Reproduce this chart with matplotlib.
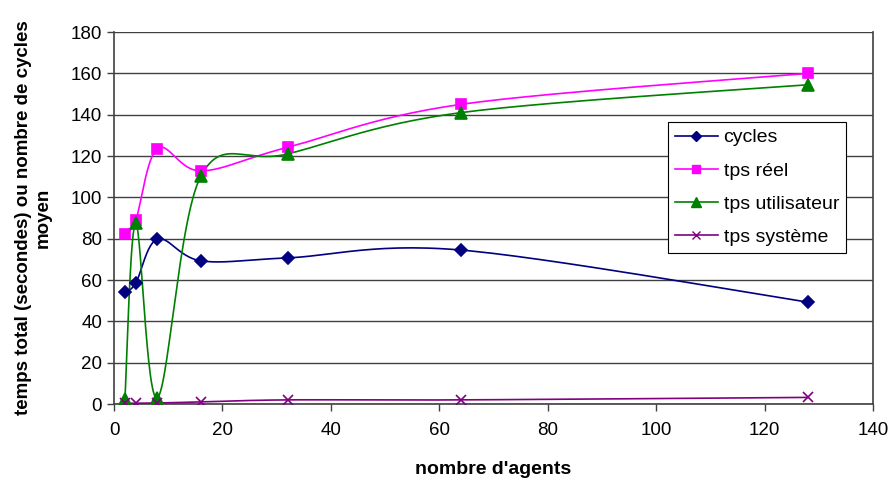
import matplotlib
matplotlib.use("Agg")
import matplotlib.pyplot as plt
import numpy as np

plt.rcParams['font.family'] = ['Liberation Sans', 'DejaVu Sans']

# nombre d'agents
agents = [2, 4, 8, 16, 32, 64, 128]

cycles = [54.2, 58.5, 79.8, 69.3, 70.7, 74.5, 49.3]
tps_reel = [82.2, 89.0, 123.6, 112.8, 124.2, 145.0, 160.0]
tps_util = [2.2, 87.5, 3.0, 110.2, 121.0, 141.0, 154.5]
tps_sys = [0.3, 0.4, 0.5, 1.0, 2.0, 2.0, 3.2]


def lissage(x, y, n=30):
    # courbe lissee facon tableur (bezier / catmull-rom)
    x = np.asarray(x, float)
    y = np.asarray(y, float)
    px = np.concatenate([[x[0]], x, [x[-1]]])
    py = np.concatenate([[y[0]], y, [y[-1]]])
    xs, ys = [], []
    t = np.linspace(0, 1, n)
    for i in range(1, len(px) - 2):
        p0 = np.array([px[i], py[i]])
        p3 = np.array([px[i + 1], py[i + 1]])
        c1 = p0 + (p3 - np.array([px[i - 1], py[i - 1]])) / 6
        c2 = p3 - (np.array([px[i + 2], py[i + 2]]) - p0) / 6
        b = ((1 - t) ** 3)[:, None] * p0 + (3 * (1 - t) ** 2 * t)[:, None] * c1 \
            + (3 * (1 - t) * t ** 2)[:, None] * c2 + (t ** 3)[:, None] * p3
        xs.extend(b[:, 0])
        ys.extend(b[:, 1])
    return xs, ys


fig = plt.figure(figsize=(8.93, 4.8), dpi=100)
ax = fig.add_axes([0.1277, 0.1583, 0.85, 0.775])

series = [
    (cycles, 'cycles', '#000080', 'D', 6),
    (tps_reel, 'tps réel', '#FF00FF', 's', 7),
    (tps_util, 'tps utilisateur', '#008000', '^', 8),
    (tps_sys, 'tps système', '#800080', 'x', 7),
]

for vals, nom, col, mk, ms in series:
    sx, sy = lissage(agents, vals)
    ax.plot(sx, sy, color=col, linewidth=1.2, zorder=3)
    ax.plot(agents, vals, linestyle='none', marker=mk, color=col,
            markersize=ms, markeredgewidth=1.2, zorder=4)
    ax.plot([], [], color=col, marker=mk, markersize=ms - 1, linewidth=1.2,
            label=nom)

ax.set_xlim(0, 140)
ax.set_ylim(0, 180)
ax.set_xticks(range(0, 141, 20))
ax.set_yticks(range(0, 181, 20))
ax.yaxis.grid(True, color='#404040', linewidth=1)
ax.set_axisbelow(True)
ax.spines['top'].set_visible(False)
for s in ['left', 'bottom', 'right']:
    ax.spines[s].set_color('#404040')
    ax.spines[s].set_linewidth(1.2)
ax.tick_params(direction='out', length=5, labelsize=13.5, color='#404040', width=1)
ax.tick_params(axis='x', pad=8)

ax.set_xlabel("nombre d'agents", fontsize=14, fontweight='bold', labelpad=16)
ax.set_ylabel("temps total (secondes) ou nombre de cycles\nmoyen",
              fontsize=13.5, fontweight='bold', labelpad=14)

leg = ax.legend(loc='upper left', bbox_to_anchor=(0.73, 0.758), fontsize=14,
                frameon=True, fancybox=False, edgecolor='black', framealpha=1,
                handlelength=2.2, borderpad=0.35, labelspacing=0.8, handletextpad=0.3,
                borderaxespad=0)
leg.get_frame().set_linewidth(0.8)

fig.savefig('out.png', dpi=100)
